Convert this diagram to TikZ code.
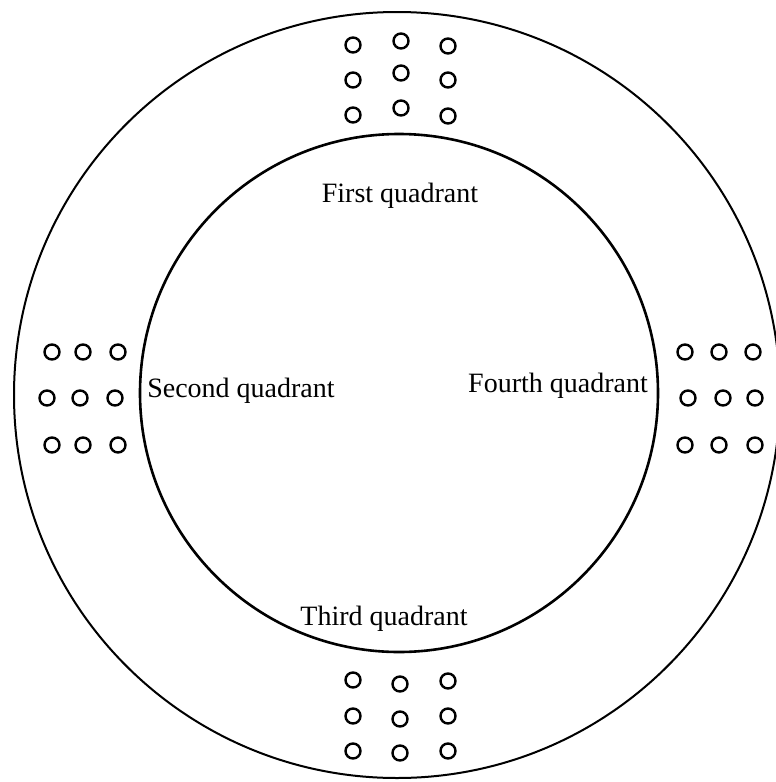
\documentclass[tikz,border=0pt]{standalone}
\usepackage{fontspec}
\setmainfont{Liberation Serif}
\usetikzlibrary{positioning}
\definecolor{Ink}{HTML}{000000}

\tikzset{
  hole/.style={draw=Ink,line width=1.2pt,circle,inner sep=0pt,minimum size=7.5pt},
  quadlabel/.style={font=\fontsize{14}{16}\selectfont,text=Ink}
}

\begin{document}
\begin{tikzpicture}[x=0.5pt,y=-0.5pt]
        \useasboundingbox (0,0) rectangle (776,782);
        % outer ring and inner disc
        \draw[Ink,line width=1pt] (397,395) circle[radius=383];
        \draw[Ink,line width=1.3pt] (399,393) circle[radius=259];
        % quadrant names
        \node[quadlabel] (first) at (400,196) {First quadrant};
        \node[quadlabel] (second) at (241,391) {Second quadrant};
        \node[quadlabel] (third) at (384,619) {Third quadrant};
        \node[quadlabel] (fourth) at (558,386) {Fourth quadrant};
        % hole groups, top / left / right / bottom
        \foreach \hx/\hy [count=\i] in {353/45,401/41,448/46,353/80,401/73,448/80,353/115,401/108,448/116}
          \node[hole] (top\i) at (\hx,\hy) {};
        \foreach \hx/\hy [count=\i] in {52/352,83/352,118/352,47/398,80/398,115/398,52/445,83/445,118/445}
          \node[hole] (left\i) at (\hx,\hy) {};
        \foreach \hx/\hy [count=\i] in {685/352,719/352,753/352,688/398,723/398,755/398,685/445,719/445,755/445}
          \node[hole] (right\i) at (\hx,\hy) {};
        \foreach \hx/\hy [count=\i] in {353/680,400/684,448/681,353/716,400/719,448/716,353/751,400/753,448/751}
          \node[hole] (bottom\i) at (\hx,\hy) {};
      \end{tikzpicture}
\end{document}
